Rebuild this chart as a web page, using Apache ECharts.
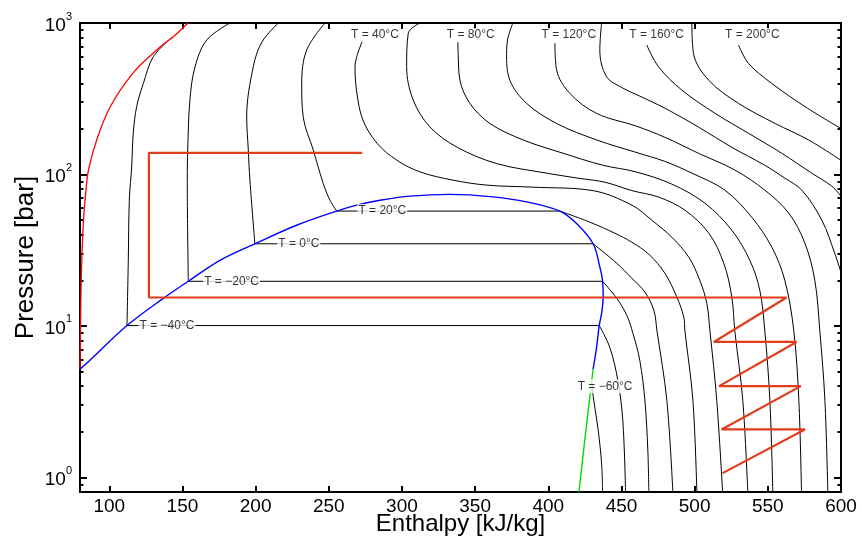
<!DOCTYPE html>
<html><head><meta charset="utf-8">
<script src="https://cdn.jsdelivr.net/npm/echarts@6/dist/echarts.min.js"></script>
<style>html,body{margin:0;padding:0;background:#fff}#c{width:862px;height:542px}</style>
</head><body><div id="c"></div>
<script>
// ---- axis ticks ----
const xTicks = [100,150,200,250,300,350,400,450,500,550,600];
const yMajor = [1,10,100,1000];

// ---- isotherms (enthalpy kJ/kg , pressure bar) ----
const iso_m60_h = [430.1,430.6,434.1,436.4,437.1];
const iso_m60_p = [4.11,3.48,2.04,1.24,0.8];
const iso_m40_h = [142.9,130.1,123.3,118.7,116.4,115.3,113.7,113.0,112.1,434.8,442.0,447.5,450.9,452.8];
const iso_m40_p = [805,599,399,280,187,112,67.6,27.1,10.05,10.05,7.22,4.37,2.38,0.8];
const iso_m20_h = [182.5,166.6,158.6,155.1,153.6,153.3,154.0,437.1,446.8,453.7,457.8,462.5,466.0,468.0,468.7];
const iso_m20_p = [1000,772,514,310,145,91.7,19.7,19.7,15.2,11.7,8.94,5.93,3.22,1.51,0.8];
const iso_0_h = [215.5,204.3,198.4,193.9,195.0,196.1,199.5,430.6,446.8,457.1,466.0,472.1,474.2,481.0,485.1];
const iso_0_p = [1000,749,514,240,145,91.7,34.85,34.85,25.9,20.6,16.7,12.7,9.35,3.22,0.8];
const iso_20_h = [247.4,234.9,231.5,232.5,239.4,246.2,250.8,255.4,407.9,428.4,445.5,457.1,468.7,479.6,487.8,492.6,493.3,498.8,501.5];
const iso_20_p = [1000,663,399,240,145,87.2,67.6,57.3,57.3,48.4,40.9,35.7,29.7,22.3,15.5,11.4,9.35,3.22,0.8];
const iso_40_h = [273.3,267.9,269.2,273.3,282.9,296.6,312.3,334.8,358.0,389.5,430.4,457.1,470.7,484.4,496.0,503.5,508.3,510.4,515.1,519.1];
const iso_40_p = [772,512,345,229,161,124,104,91.7,85.0,82.4,78.2,62.7,49.9,38.5,28.4,20.0,14.1,9.35,3.22,0.8];
const iso_60_h = [312.3,304.3,303.2,307.7,319.1,337.3,364.7,398.8,421.6,438.6,457.1,475.5,493.3,509.7,519.9,525.4,527.4,532.9,536.3];
const iso_60_p = [1000,855,514,310,206,152,118,102,94.1,88.9,78.2,70.8,58.1,40.9,25.9,15.5,9.35,3.22,0.8];
const iso_80_h = [338.2,338.4,339.6,346.4,360.1,382.8,410.1,437.3,459.8,484.4,507.0,525.4,537.7,544.5,547.9,551.4,553.4];
const iso_80_p = [749,630,420,295,217,169,138,115,104,86.3,64.6,42.8,27.1,17.2,9.35,3.22,0.8];
const iso_100_h = [375.8,372.4,371.5,373.7,385.1,405.7,433.0,459.8,479.6,498.1,520.6,539.0,552.7,561.6,567.7,571.2,573.0];
const iso_100_p = [1000,796,630,420,295,217,169,140,122,102,78.8,52.2,33.1,20.0,9.35,3.22,0.8];
const iso_120_h = [404.5,405.7,414.7,433.0,459.8,479.6,502.6,527.4,547.9,564.3,575.3,582.1,585.5,589.0,591.0];
const iso_120_p = [738,489,343,253,209,176,138,107,78.8,55.5,35.2,20.0,9.35,3.22,0.8];
const iso_140_h = [436.4,435.2,439.8,450.9,462.5,479.6,502.8,525.4,547.9,561.6,573.2,586.9,595.7,600];
const iso_140_p = [1000,663,442,372,329,274,205,151,115,94.5,78.8,49.9,30.2,22.6];
const iso_160_h = [467.3,475.3,491.2,514.0,536.8,559.5,580.0,593.7,600];
const iso_160_p = [715,514,361,253,187,138,102,83.7,71.9];
const iso_180_h = [498.1,499.2,509.5,529.9,555.0,577.8,600];
const iso_180_p = [1000,630,420,295,217,169,124];
const iso_200_h = [530.0,536.8,552.7,575.5,600];
const iso_200_p = [715,541,399,280,201];

// ---- saturation dome, sublimation line, melting line ----
const dome_h = [80.0,86.8,112.1,136.9,154.0,175.6,199.5,228.0,255.4,269.0,285.0,305.4,332.8,362.3,385.1,407.9,419.3,430.6,435.2,437.1,437.5,436.4,434.8,433.0,430.6];
const dome_p = [5.18,5.93,10.05,15.2,19.7,27.1,34.85,46.2,57.3,62.7,67.6,71.9,73.8,71.1,65.9,57.3,47.4,34.85,24.5,19.7,15.5,12.1,10.05,7.25,5.18];
const subl_h = [430.6,425.7,420.9];
const subl_p = [5.18,2.04,0.8];
const melt_h = [80.0,80.4,81.0,82.4,84.1,85.8,91.4,100.5,116.2,134.7,143.8,153.8];
const melt_p = [5.18,10.9,23.3,49.9,78.8,107,169,278,467,694,812,1000];

// ---- cycle ----
const cycle_h = [272.8,127.1,127.1,562.8,513.1,569.6,516.7,572.5,518.4,575.3,519.1];
const cycle_p = [138.9,138.9,15.4,15.4,7.83,7.83,4.0,4.0,2.07,2.07,1.066];

// ---- isotherm labels ----
const labelText = ['T = \u221260\u00b0C','T = \u221240\u00b0C','T = \u221220\u00b0C','T = 0\u00b0C','T = 20\u00b0C','T = 40\u00b0C','T = 80\u00b0C','T = 120\u00b0C','T = 160\u00b0C','T = 200\u00b0C'];
const label_h = [438.8,139.4,183.6,229.5,286.6,281.5,347.0,414.0,474.0,539.4];
const label_p = [3.99,10.05,19.7,34.85,57.3,833,833,833,833,833];

const isoH = [iso_m60_h,iso_m40_h,iso_m20_h,iso_0_h,iso_20_h,iso_40_h,iso_60_h,iso_80_h,iso_100_h,iso_120_h,iso_140_h,iso_160_h,iso_180_h,iso_200_h];
const isoP = [iso_m60_p,iso_m40_p,iso_m20_p,iso_0_p,iso_20_p,iso_40_p,iso_60_p,iso_80_p,iso_100_p,iso_120_p,iso_140_p,iso_160_p,iso_180_p,iso_200_p];

const FONT = '"Liberation Sans", Arial, Helvetica, sans-serif';
const zip = (h, p) => h.map((v, i) => [v, p[i]]);
const lineSeries = (data, color, width, z, smooth) => ({
  type: 'line', data: data, showSymbol: false, symbol: 'none', z: z, silent: true,
  smooth: smooth || false,
  lineStyle: { color: color, width: width }, clip: true
});

const series = [];
// split each isotherm at its two-phase (constant pressure) segment; curved branches are smoothed
isoH.forEach((h, k) => {
  const pts = zip(h, isoP[k]);
  let cut = -1;
  for (let i = 0; i < pts.length - 1; i++) if (pts[i][1] === pts[i + 1][1]) cut = i;
  if (cut < 0) {
    series.push(lineSeries(pts, '#000', 1, 2, 0.35));
  } else {
    series.push(lineSeries(pts.slice(0, cut + 1), '#000', 1, 2, 0.35));
    series.push(lineSeries(pts.slice(cut, cut + 2), '#000', 1, 2, false));
    series.push(lineSeries(pts.slice(cut + 1), '#000', 1, 2, 0.35));
  }
});
series.push(lineSeries(zip(melt_h, melt_p), '#ff0000', 1.3, 3, 0.35));
series.push(lineSeries(zip(dome_h, dome_p), '#0000ff', 1.4, 3, 0.35));
series.push(lineSeries(zip(subl_h, subl_p), '#00dd00', 1.4, 3, 0.3));
series.push({
  type: 'scatter', data: zip(label_h, label_p), symbolSize: 0, silent: true, z: 4,
  label: { show: true, position: 'inside', formatter: p => labelText[p.dataIndex],
    fontSize: 12, color: '#000', fontFamily: FONT, backgroundColor: '#fff', padding: [1, 1] }
});
series.push(lineSeries(zip(cycle_h, cycle_p), '#e23c1a', 2.2, 5, false));

const isPow10 = v => { const e = Math.round(Math.log10(v)); return Math.abs(v - Math.pow(10, e)) < 1e-6 * v ? e : null; };
const frame = { show: true, lineStyle: { color: '#000', width: 2 } };
const tickStyle = { color: '#000', width: 2 };

const option = {
  animation: false,
  backgroundColor: '#fff',
  grid: { left: 80, right: 21, top: 23, bottom: 50, containLabel: false, outerBoundsMode: 'none' },
  xAxis: [
    { type: 'value', min: 80, max: 600, position: 'bottom', axisLine: frame,
      axisTick: { show: true, inside: true, length: 6, customValues: xTicks, lineStyle: tickStyle },
      axisLabel: { customValues: xTicks, fontSize: 19, color: '#000', fontFamily: FONT, margin: 5 },
      splitLine: { show: false },
      name: 'Enthalpy [kJ/kg]', nameLocation: 'middle', nameGap: 20, nameMoveOverlap: false,
      nameTextStyle: { fontSize: 24, color: '#000', fontFamily: FONT } },
    { type: 'value', min: 80, max: 600, position: 'top', axisLine: frame,
      axisTick: { show: true, inside: true, length: 6, customValues: xTicks, lineStyle: tickStyle },
      axisLabel: { show: false }, splitLine: { show: false } }
  ],
  yAxis: [
    { type: 'log', logBase: 10, min: 0.8, max: 1000, position: 'left', axisLine: frame,
      axisTick: { show: true, inside: true, length: 7, lineStyle: tickStyle },
      minorTick: { show: true, splitNumber: 9, length: 3.5, lineStyle: tickStyle },
      axisLabel: { margin: 8, color: '#000',
        formatter: v => { const e = isPow10(v); return e === null ? '' : '{b|10}{e|' + e + '}'; },
        rich: { b: { fontSize: 19, lineHeight: 24, verticalAlign: 'bottom', fontFamily: FONT, color: '#000' },
                e: { fontSize: 11, lineHeight: 11, verticalAlign: 'top', fontFamily: FONT, color: '#000' } } },
      splitLine: { show: false }, minorSplitLine: { show: false },
      name: 'Pressure [bar]', nameLocation: 'middle', nameGap: 41, nameMoveOverlap: false,
      nameTextStyle: { fontSize: 26, color: '#000', fontFamily: FONT } },
    { type: 'log', logBase: 10, min: 0.8, max: 1000, position: 'right', axisLine: frame,
      axisTick: { show: true, inside: true, length: 7, lineStyle: tickStyle },
      minorTick: { show: true, splitNumber: 9, length: 3.5, lineStyle: tickStyle },
      axisLabel: { show: false }, splitLine: { show: false }, minorSplitLine: { show: false } }
  ],
  series: series
};
const chart = echarts.init(document.getElementById('c'), null, { renderer: 'canvas' });
chart.setOption(option);
</script></body></html>
